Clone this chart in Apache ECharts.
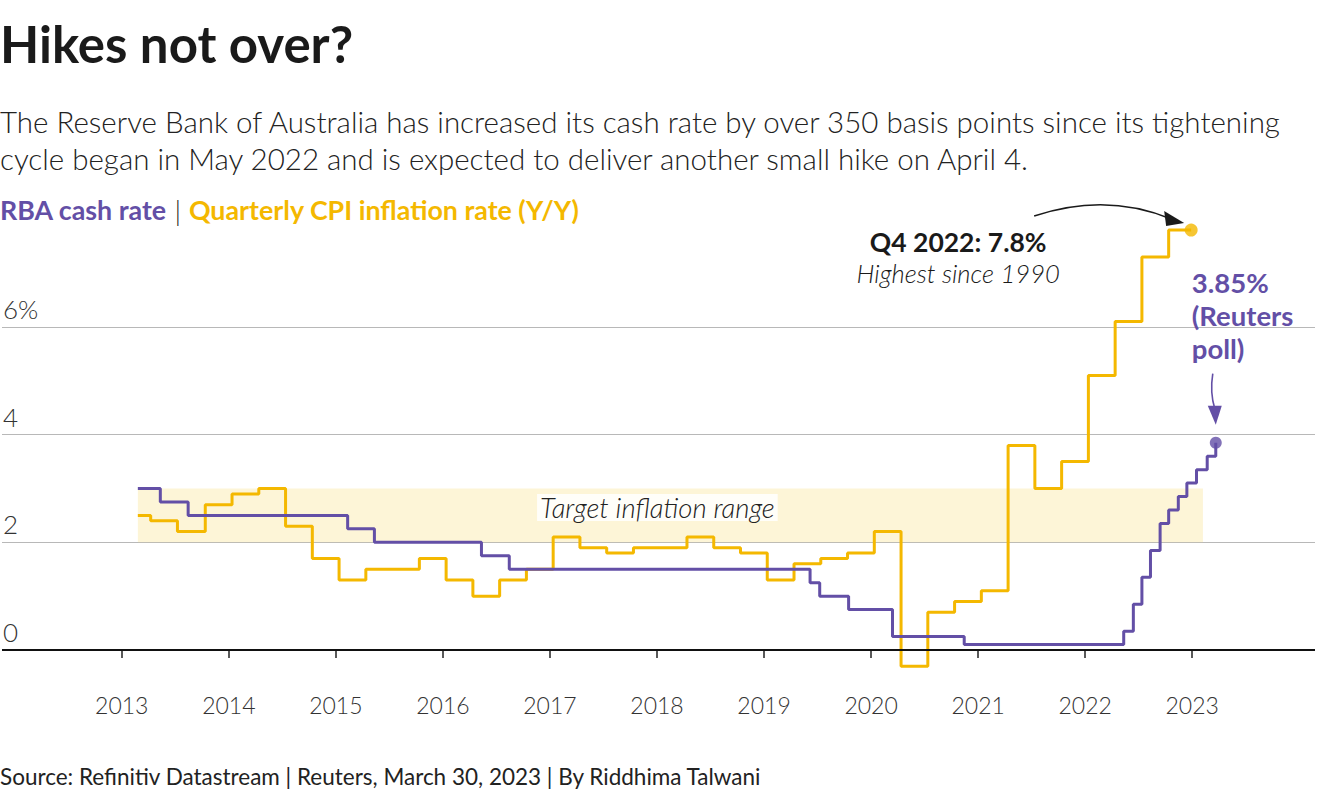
<!DOCTYPE html>
<html>
<head>
<meta charset="utf-8">
<script src="https://cdn.jsdelivr.net/npm/echarts@6/dist/echarts.min.js"></script>
<style>
html,body{margin:0;padding:0;background:#fff;}
#c{width:1320px;height:800px;}
</style>
</head>
<body>
<div id="c"></div>
<script>
// ---- data (decimal years) ----
const cashDates = [2013.15, 2013.36, 2013.62, 2015.11, 2015.36, 2016.36, 2016.62, 2019.43, 2019.52, 2019.79, 2020.20, 2020.87, 2022.36, 2022.45, 2022.53, 2022.61, 2022.70, 2022.78, 2022.87, 2022.95, 2023.04, 2023.14, 2023.22];
const cashRates = [3.00, 2.75, 2.50, 2.25, 2.00, 1.75, 1.50, 1.25, 1.00, 0.75, 0.25, 0.10, 0.35, 0.85, 1.35, 1.85, 2.35, 2.60, 2.85, 3.10, 3.35, 3.60, 3.85];

const cpiDates = [2013.15, 2013.27, 2013.52, 2013.78, 2014.03, 2014.28, 2014.53, 2014.78, 2015.03, 2015.28, 2015.53, 2015.78, 2016.03, 2016.28, 2016.53, 2016.78, 2017.03, 2017.28, 2017.53, 2017.78, 2018.03, 2018.28, 2018.53, 2018.78, 2019.03, 2019.28, 2019.53, 2019.78, 2020.03, 2020.28, 2020.53, 2020.78, 2021.03, 2021.28, 2021.53, 2021.78, 2022.03, 2022.28, 2022.53, 2022.78, 2022.99];
const cpiValues = [2.5, 2.4, 2.2, 2.7, 2.9, 3.0, 2.3, 1.7, 1.3, 1.5, 1.5, 1.7, 1.3, 1.0, 1.3, 1.5, 2.1, 1.9, 1.8, 1.9, 1.9, 2.1, 1.9, 1.8, 1.3, 1.6, 1.7, 1.8, 2.2, -0.3, 0.7, 0.9, 1.1, 3.8, 3.0, 3.5, 5.1, 6.1, 7.3, 7.8, 7.8];

const yearTicks = [2013, 2014, 2015, 2016, 2017, 2018, 2019, 2020, 2021, 2022, 2023];
const yTicks = [0, 2, 4, 6];
const targetRange = {from: 2013.15, to: 2023.10, low: 2, high: 3};

const PURPLE = '#634fa6';
const YELLOW = '#f4b800';
const FONT = 'Lato, "Noto Sans", sans-serif';

const cashData = cashDates.map((d, i) => [d, cashRates[i]]);
const cpiData = cpiDates.map((d, i) => [d, cpiValues[i]]);

const chart = echarts.init(document.getElementById('c'), null, {renderer: 'svg'});

const option = {
  animation: false,
  backgroundColor: '#fff',
  textStyle: {fontFamily: FONT},
  grid: {left: 0, right: 5, top: 224.7, bottom: 150, containLabel: false},
  xAxis: {
    type: 'value',
    min: 2011.881,
    max: 2024.147,
    offset: 17,
    axisLine: {show: false},
    splitLine: {show: false},
    axisTick: {show: true, customValues: yearTicks, length: 8, lineStyle: {color: '#222', width: 1.5}},
    axisLabel: {customValues: yearTicks, margin: 26, fontSize: 23, fontWeight: 300, color: '#333', fontFamily: FONT,
      formatter: v => String(Math.round(v))}
  },
  yAxis: {
    type: 'value',
    min: 0,
    max: 7.9,
    interval: 2,
    axisLine: {show: false},
    axisTick: {show: false},
    splitLine: {show: true, showMaxLine: false, lineStyle: {color: '#b8b8b8', width: 1}},
    axisLabel: {customValues: yTicks, inside: true, margin: 1, verticalAlign: 'bottom', padding: [0, 0, 5, 0],
      fontSize: 26, fontWeight: 300, color: '#333', fontFamily: FONT,
      formatter: v => (v === 6 ? '6%' : String(v))}
  },
  series: [
    {
      name: 'Quarterly CPI inflation rate (Y/Y)',
      type: 'line',
      step: 'end',
      data: cpiData,
      showSymbol: false,
      symbol: 'none',
      clip: false,
      z: 3,
      lineStyle: {color: YELLOW, width: 3},
      markArea: {
        silent: true,
        itemStyle: {color: 'rgba(250, 226, 140, 0.35)'},
        label: {show: true, position: 'inside', offset: [-13, -8], formatter: 'Target inflation range',
          fontFamily: FONT, fontSize: 27.5, fontStyle: 'italic', fontWeight: 300, color: '#222',
          backgroundColor: 'rgba(255,255,255,0.85)', padding: [0, 3]},
        data: [[{xAxis: targetRange.from, yAxis: targetRange.low}, {xAxis: targetRange.to, yAxis: targetRange.high}]]
      }
    },
    {
      name: 'RBA cash rate',
      type: 'line',
      step: 'end',
      data: cashData,
      showSymbol: false,
      symbol: 'none',
      clip: false,
      z: 4,
      lineStyle: {color: PURPLE, width: 3},
      markLine: {
        silent: true,
        symbol: 'none',
        label: {show: false},
        lineStyle: {color: '#111', width: 2, type: 'solid'},
        data: [{yAxis: 0}]
      }
    },
    {
      type: 'scatter',
      symbolSize: 13,
      z: 5,
      itemStyle: {color: YELLOW},
      data: [cpiData[cpiData.length - 1]]
    },
    {
      type: 'scatter',
      symbolSize: 12,
      z: 5,
      itemStyle: {color: PURPLE},
      data: [cashData[cashData.length - 1]]
    }
  ]
};
chart.setOption(option);

const cpiEnd = chart.convertToPixel({gridIndex: 0}, cpiData[cpiData.length - 1]);
const cashEnd = chart.convertToPixel({gridIndex: 0}, cashData[cashData.length - 1]);

const graphics = [
  {type: 'text', left: 0, top: 18, style: {text: 'Hikes not over?', font: 'bold 51px ' + FONT, fill: '#1a1a1a'}},
  {type: 'text', left: 0, top: 103, style: {
    text: 'The Reserve Bank of Australia has increased its cash rate by over 350 basis points since its tightening\ncycle began in May 2022 and is expected to deliver another small hike on April 4.',
    font: '300 29.5px ' + FONT, fill: '#222', lineHeight: 37}},
  {type: 'text', left: 0, top: 196, style: {
    text: '{a|RBA cash rate}{s| | }{b|Quarterly CPI inflation rate (Y/Y)}',
    rich: {
      a: {fontFamily: FONT, fontSize: 26.8, fontWeight: 'bold', fill: PURPLE, color: PURPLE},
      s: {fontFamily: FONT, fontSize: 28, fontWeight: 300, fill: '#222', color: '#222'},
      b: {fontFamily: FONT, fontSize: 26.8, fontWeight: 'bold', fill: YELLOW, color: YELLOW}
    }}},
  {type: 'text', left: 0, top: 765, style: {
    text: 'Source: Refinitiv Datastream | Reuters, March 30, 2023 | By Riddhima Talwani',
    font: '22.5px ' + FONT, fill: '#222'}},
  // CPI annotation
  {type: 'text', x: cpiEnd[0] - 233, y: cpiEnd[1] + 12, style: {
    text: 'Q4 2022: 7.8%', font: 'bold 26.5px ' + FONT, fill: '#1a1a1a', align: 'center', verticalAlign: 'middle'}},
  {type: 'text', x: cpiEnd[0] - 233, y: cpiEnd[1] + 43, style: {
    text: 'Highest since 1990', font: 'italic 300 25.6px ' + FONT, fill: '#1a1a1a', align: 'center', verticalAlign: 'middle'}},
  {type: 'bezierCurve', shape: {
      x1: cpiEnd[0] - 157, y1: cpiEnd[1] - 14,
      cpx1: cpiEnd[0] - 85, cpy1: cpiEnd[1] - 38,
      x2: cpiEnd[0] - 20, y2: cpiEnd[1] - 11},
    style: {stroke: '#1a1a1a', lineWidth: 1.6, fill: 'none'}},
  {type: 'polygon', shape: {points: [
      [cpiEnd[0] - 27, cpiEnd[1] - 19],
      [cpiEnd[0] - 7, cpiEnd[1] - 7],
      [cpiEnd[0] - 25, cpiEnd[1] - 4]]},
    style: {fill: '#1a1a1a'}},
  // Cash rate annotation
  {type: 'text', left: cashEnd[0] - 24, top: cashEnd[1] - 177, style: {
    text: '3.85%\n(Reuters\npoll)', font: 'bold 27.5px ' + FONT, fill: PURPLE, lineHeight: 33}},
  {type: 'bezierCurve', shape: {
      x1: cashEnd[0] - 3, y1: cashEnd[1] - 69,
      cpx1: cashEnd[0] - 6, cpy1: cashEnd[1] - 50,
      x2: cashEnd[0] - 1, y2: cashEnd[1] - 34},
    style: {stroke: PURPLE, lineWidth: 1.6, fill: 'none'}},
  {type: 'polygon', shape: {points: [
      [cashEnd[0] - 8, cashEnd[1] - 37],
      [cashEnd[0], cashEnd[1] - 18],
      [cashEnd[0] + 6, cashEnd[1] - 37]]},
    style: {fill: PURPLE}}
];
chart.setOption({graphic: graphics});
</script>
</body>
</html>
